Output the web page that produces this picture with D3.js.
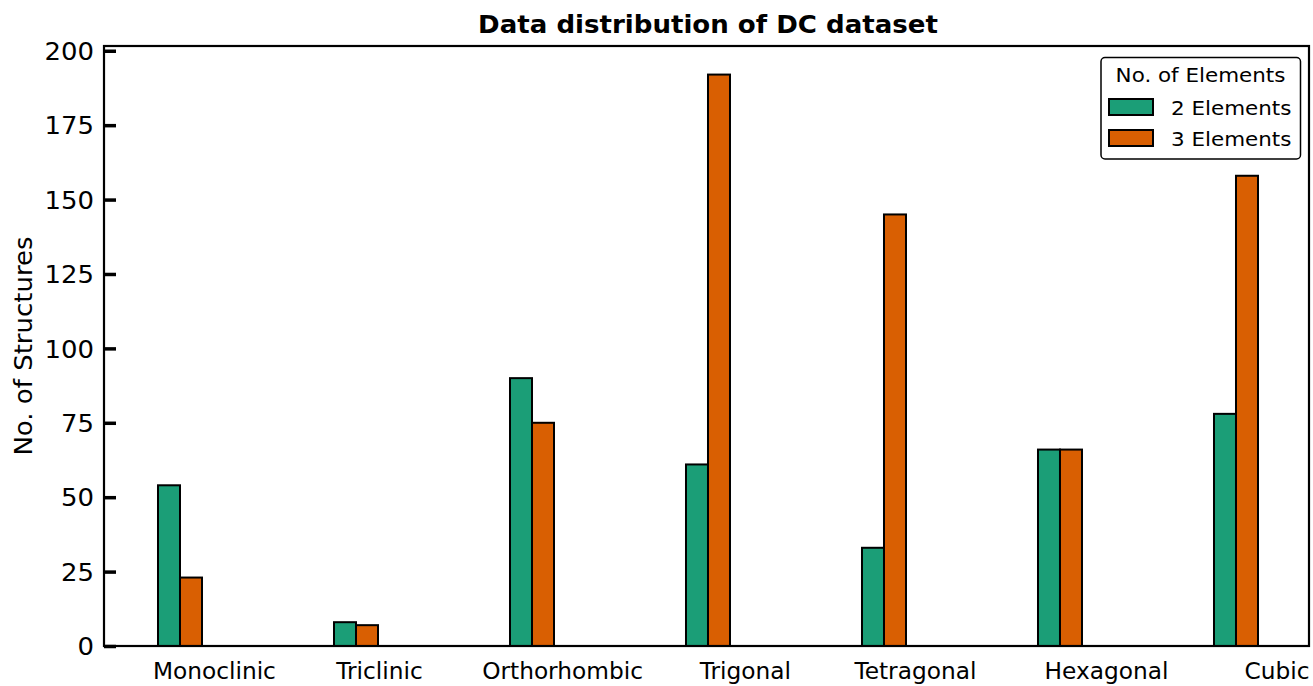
<!DOCTYPE html>
<html>
<head>
<meta charset="utf-8">
<script src="https://cdn.jsdelivr.net/npm/d3@7"></script>
<style>
  html, body { margin: 0; padding: 0; background: #fff; }
  svg { display: block; font-family: "DejaVu Sans", sans-serif; }
</style>
</head>
<body>
<svg id="chart" width="1313" height="686"></svg>
<script>
// ---- data ----
const categories = ["Monoclinic", "Triclinic", "Orthorhombic", "Trigonal", "Tetragonal", "Hexagonal", "Cubic"];
const seriesNames = ["2 Elements", "3 Elements"];
const twoElements = [54, 8, 90, 61, 33, 66, 78];
const threeElements = [23, 7, 75, 192, 145, 66, 158];
const seriesColors = ["#1b9e77", "#d95f02"];
const yTicks = [0, 25, 50, 75, 100, 125, 150, 175, 200];
// x tick positions (category units) where the labels sit in the reference
const xTickPositions = [0.258, 1.196, 2.236, 3.275, 4.241, 5.327, 6.296];
const chartTitle = "Data distribution of DC dataset";
const yLabel = "No. of Structures";
const legendTitle = "No. of Elements";

// ---- layout ----
const plot = { left: 104, right: 1309, top: 46, bottom: 646 };
const barW = 0.125;           // bar width in category units

const svg = d3.select("#chart");

const x = d3.scaleLinear().domain([-0.3693, 6.4773]).range([plot.left, plot.right]);
const y = d3.scaleLinear().domain([0, 201.6]).range([plot.bottom, plot.top]);

function stretchedText(parent, tx, ty, str, opts) {
  const g = parent.append("g")
    .attr("transform", `translate(${tx},${ty}) scale(${opts.sx},1)` + (opts.rotate ? ` rotate(${opts.rotate})` : ""));
  const t = g.append("text")
    .attr("x", 0).attr("y", 0)
    .attr("text-anchor", opts.anchor || "start")
    .attr("font-size", opts.size)
    .attr("font-weight", opts.weight || "normal")
    .attr("fill", "#000")
    .text(str);
  if (opts.baseline) t.attr("dominant-baseline", opts.baseline);
  return t;
}

// ---- bars ----
const series = [twoElements, threeElements];
series.forEach((vals, s) => {
  svg.append("g").selectAll("rect")
    .data(vals)
    .join("rect")
    .attr("x", (d, i) => x(i + s * barW - barW / 2))
    .attr("y", d => y(d))
    .attr("width", x(barW) - x(0))
    .attr("height", d => y(0) - y(d))
    .attr("fill", seriesColors[s])
    .attr("stroke", "#000")
    .attr("stroke-width", 2);
});

// ---- frame ----
svg.append("rect")
  .attr("x", plot.left).attr("y", plot.top)
  .attr("width", plot.right - plot.left).attr("height", plot.bottom - plot.top)
  .attr("fill", "none").attr("stroke", "#000").attr("stroke-width", 2.2);

// ---- y axis (inward ticks) ----
const yAxis = d3.axisRight(y).tickValues(yTicks).tickSize(12).tickFormat("");
const yg = svg.append("g").attr("transform", `translate(${plot.left},0)`).call(yAxis);
yg.select(".domain").remove();
yg.selectAll(".tick line").attr("stroke", "#000").attr("stroke-width", 3.5);

yTicks.forEach(v => {
  stretchedText(svg, 94, y(v) + 1, String(v), { anchor: "end", size: 24, sx: 1.08, baseline: "central" });
});

// ---- x tick labels ----
categories.forEach((c, i) => {
  stretchedText(svg, x(xTickPositions[i]), 679, c, { anchor: "middle", size: 22.5, sx: 1.035 });
});

// ---- title ----
stretchedText(svg, (plot.left + plot.right) / 2 + 1.5, 33, chartTitle, { anchor: "middle", size: 24.6, weight: "bold", sx: 1.06 });

// ---- y label ----
stretchedText(svg, 32, (plot.top + plot.bottom) / 2, yLabel, { anchor: "middle", size: 26, rotate: -90, sx: 0.97 });

// ---- legend ----
const lg = svg.append("g");
lg.append("rect")
  .attr("x", 1101).attr("y", 57.5).attr("width", 199.5).attr("height", 101.5)
  .attr("rx", 4).attr("ry", 4)
  .attr("fill", "#fff").attr("stroke", "#000").attr("stroke-width", 1.5);
stretchedText(lg, 1200.5, 81.5, legendTitle, { anchor: "middle", size: 19.5, sx: 1.1 });
seriesNames.forEach((name, s) => {
  const yy = 99 + s * 31;
  lg.append("rect")
    .attr("x", 1109).attr("y", yy).attr("width", 44).attr("height", 16)
    .attr("fill", seriesColors[s]).attr("stroke", "#000").attr("stroke-width", 2);
  stretchedText(lg, 1171, yy + 16, name, { anchor: "start", size: 19.5, sx: 1.1 });
});
</script>
</body>
</html>
